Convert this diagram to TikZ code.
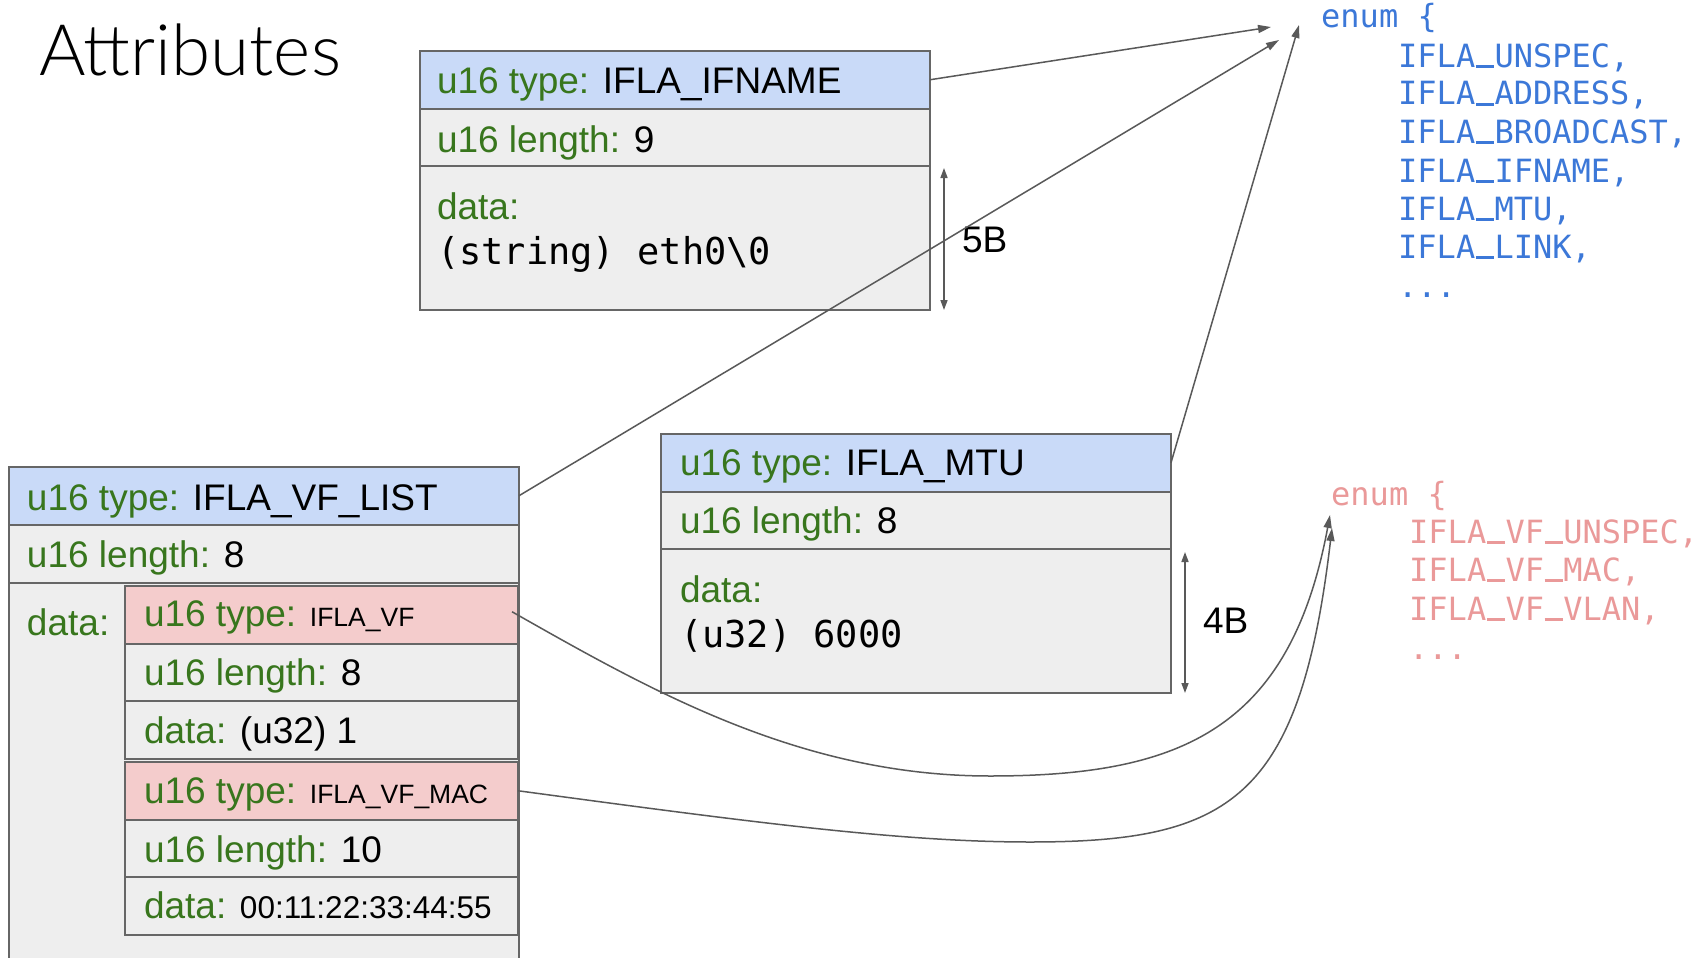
\documentclass[tikz,border=0pt]{standalone}
\usepackage{fontspec}
\setmainfont{Liberation Sans}
\newfontfamily\monof{DejaVu Sans Mono}
\newfontfamily\titlef{Lato Light}
\usetikzlibrary{arrows.meta}
\definecolor{hdrblue}{HTML}{C9DAF8}
\definecolor{cellgray}{HTML}{EEEEEE}
\definecolor{vfpink}{HTML}{F4CCCC}
\definecolor{bordergray}{HTML}{666666}
\definecolor{lblgreen}{HTML}{38761D}
\definecolor{enumblue}{HTML}{3C78D8}
\definecolor{enumred}{HTML}{EA9999}
\definecolor{arrowgray}{HTML}{595959}
\newcommand{\fbig}{\fontsize{37}{40}\selectfont}
\newcommand{\fmono}{\monof\fontsize{37}{40}\selectfont}
\newcommand{\fenum}{\monof\fontsize{32}{36}\selectfont}
\newcommand{\fsmall}{\fontsize{26.5}{30}\selectfont}
\newcommand{\fmac}{\fontsize{31.5}{34}\selectfont}
\newcommand{\gr}[1]{\textcolor{lblgreen}{#1}}
\newcommand{\us}{\makebox[0.602em][c]{\rule[-0.02em]{0.56em}{0.075em}}}
\begin{document}
\begin{tikzpicture}[x=1pt,y=-1pt,
  row/.style={draw=bordergray,line width=2pt,anchor=north west,inner sep=0pt,outer sep=0pt},
  hdr/.style={row,fill=hdrblue,minimum width=510pt,minimum height=57.5pt},
  cell/.style={row,fill=cellgray,minimum width=510pt,minimum height=57.5pt},
  irow/.style={row,fill=cellgray,minimum width=393pt,minimum height=57.5pt},
  ihdr/.style={row,fill=vfpink,minimum width=393pt,minimum height=57.5pt},
  lbl/.style={anchor=base west,inner sep=0pt,outer sep=0pt,font=\fbig},
  eb/.style={anchor=base west,inner sep=0pt,font=\fenum,text=enumblue},
  er/.style={anchor=base west,inner sep=0pt,font=\fenum,text=enumred},
  conn/.style={draw=arrowgray,line width=1.5pt,-{Triangle[length=13pt,width=8pt]}},
  dimarrow/.style={draw=arrowgray,line width=1.5pt,{Triangle[length=10pt,width=7pt]}-{Triangle[length=10pt,width=7pt]}}
]
\clip (0,0) rectangle (1701,958);
\fill[white] (0,0) rectangle (1701,958);

% title
\node[anchor=base west,inner sep=0pt,font=\titlef\fontsize{71}{75}\selectfont] (title) at (39,76) {Attributes};

% IFLA_IFNAME box
\node[hdr] (ifT) at (420,51) {};
\node[cell] (ifL) at (420,108.5) {};
\node[cell,minimum height=144pt] (ifD) at (420,166) {};
\node[lbl] (ifTt) at (437,93) {\gr{u16 type:} IFLA\_IFNAME};
\node[lbl] (ifLt) at (437,152) {\gr{u16 length:} 9};
\node[lbl] (ifDt) at (437,219) {\gr{data:}};
\node[lbl,font=\fmono] (ifDv) at (437,264) {(string) eth0\textbackslash 0};
\coordinate (ifDa) at (944,168);
\coordinate (ifDb) at (944,310);
\node[lbl] (fiveB) at (962,252) {5B};

% IFLA_MTU box
\node[hdr] (mtT) at (661,434) {};
\node[cell] (mtL) at (661,491.5) {};
\node[cell,minimum height=144pt] (mtD) at (661,549) {};
\node[lbl] (mtTt) at (680,475) {\gr{u16 type:} IFLA\_MTU};
\node[lbl] (mtLt) at (680,533) {\gr{u16 length:} 8};
\node[lbl] (mtDt) at (680,602) {\gr{data:}};
\node[lbl,font=\fmono] (mtDv) at (680,647) {(u32) 6000};
\coordinate (mtDa) at (1185,552);
\coordinate (mtDb) at (1185,693);
\node[lbl] (fourB) at (1203,633) {4B};

% IFLA_VF_LIST box
\node[hdr] (vlT) at (9,467) {};
\node[cell,minimum height=58pt] (vlL) at (9,525) {};
\node[cell,minimum height=420pt] (vlD) at (9,583) {};
\node[lbl] (vlTt) at (27,510) {\gr{u16 type:} IFLA\_VF\_LIST};
\node[lbl] (vlLt) at (27,567) {\gr{u16 length:} 8};
\node[lbl] (vlDt) at (27,635) {\gr{data:}};

\node[ihdr] (vfT) at (125,586) {};
\node[irow] (vfL) at (125,643.5) {};
\node[irow] (vfD) at (125,701) {};
\node[ihdr] (macT) at (125,762) {};
\node[irow] (macL) at (125,819.5) {};
\node[irow] (macD) at (125,877) {};
\node[lbl] (vfTt) at (144,626) {\gr{u16 type:} {\fsmall IFLA\_VF}};
\node[lbl] (vfLt) at (144,685) {\gr{u16 length:} 8};
\node[lbl] (vfDt) at (144,743) {\gr{data:} (u32) 1};
\node[lbl] (macTt) at (144,803) {\gr{u16 type:} {\fsmall IFLA\_VF\_MAC}};
\node[lbl] (macLt) at (144,862) {\gr{u16 length:} 10};
\node[lbl] (macDt) at (144,918) {\gr{data:} {\fmac 00:11:22:33:44:55}};

% blue enum
\node[eb] (eb0) at (1321,28) {enum \{};
\node[eb] (eb1) at (1398,67) {IFLA\us UNSPEC,};
\node[eb] (eb2) at (1398,105) {IFLA\us ADDRESS,};
\node[eb] (eb3) at (1398,143) {IFLA\us BROADCAST,};
\node[eb] (eb4) at (1398,182) {IFLA\us IFNAME,};
\node[eb] (eb5) at (1398,220) {IFLA\us MTU,};
\node[eb] (eb6) at (1398,258) {IFLA\us LINK,};
\node[eb] (eb7) at (1398,297) {...};

% red enum
\node[er] (er0) at (1331,505) {enum \{};
\node[er] (er1) at (1409,543) {IFLA\us VF\us UNSPEC,};
\node[er] (er2) at (1409,581) {IFLA\us VF\us MAC,};
\node[er] (er3) at (1409,620) {IFLA\us VF\us VLAN,};
\node[er] (er4) at (1409,659) {...};

% arrow targets
\coordinate (tA1) at (1271,27);
\coordinate (tA2) at (1279,40);
\coordinate (tA3) at (1299,25);
\coordinate (tR1) at (1330,515);
\coordinate (tR2) at (1332,528);

% size arrows
\draw[dimarrow] (ifDa) -- (ifDb);
\draw[dimarrow] (mtDa) -- (mtDb);

% connectors
\draw[conn] (ifT.east) -- (tA1);
\draw[conn] (vlT.east) -- (tA2);
\draw[conn] (mtT.east) -- (tA3);
\draw[conn] ([xshift=-6pt,yshift=3pt]vfT.east) .. controls (650,690) and (800,776) .. (990,776)
   .. controls (1180,776) and (1290,730) .. (tR1);
\draw[conn] (macT.east) .. controls (750,822) and (900,842) .. (1030,842)
   .. controls (1230,842) and (1300,800) .. (tR2);
\end{tikzpicture}
\end{document}
